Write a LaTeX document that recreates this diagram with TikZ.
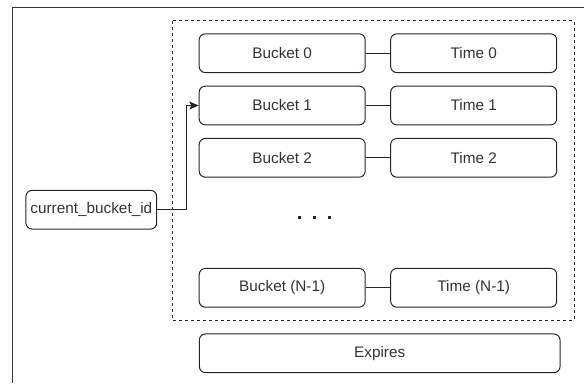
\documentclass[tikz,border=0pt]{standalone}
\usepackage{fontspec}
\setmainfont{Liberation Sans}
\usetikzlibrary{arrows.meta}
\begin{document}
\begin{tikzpicture}[x=0.75pt,y=-0.75pt,
  line width=0.75pt,
  box/.style={draw=black!85, rounded corners=4.5pt, inner sep=0pt,
    minimum height=29pt, font=\fontsize{11.5}{13}\selectfont, text=black!80},
  slot/.style={box, minimum width=124.5pt},
  link/.style={draw=black!85}]
  \useasboundingbox (0,0) rectangle (584,383);

  % outer frame (open on the right and bottom)
  \draw[black!80] (12.5,383) -- (12.5,7.5) -- (584,7.5);

  % group of buckets
  \draw[black!85, dash pattern=on 2.25pt off 2.25pt] (172.7,20.7) rectangle (574,320);

  % bucket / time pairs
  \node[slot] (b0) at (282.2,53.2) {Bucket 0};
  \node[slot] (t0) at (473.7,53.2) {Time 0};
  \node[slot] (b1) at (282.2,105.5) {Bucket 1};
  \node[slot] (t1) at (473.7,105.5) {Time 1};
  \node[slot] (b2) at (282.2,157.8) {Bucket 2};
  \node[slot] (t2) at (473.7,157.8) {Time 2};
  \node[slot] (bn) at (282.2,287.8) {Bucket (N-1)};
  \node[slot] (tn) at (473.7,287.8) {Time (N-1)};

  \draw[link] (b0.east) -- (t0.west);
  \draw[link] (b1.east) -- (t1.west);
  \draw[link] (b2.east) -- (t2.west);
  \draw[link] (bn.east) -- (tn.west);

  % ellipsis
  \node[inner sep=0pt] (dots) at (314.3,217.3)
    {\tikz[x=0.75pt,y=0.75pt]{\foreach \i in {0,15,30}{\fill[black!85] (\i-1.5,-1.5) rectangle (\i+1.5,1.5);}}};

  % expiry box
  \node[box, minimum width=270.5pt] (exp) at (379.7,353.3) {Expires};

  % current bucket pointer
  \node[box, minimum width=98pt] (cur) at (91.3,209.7) {current\_bucket\_id};
  \coordinate (bend) at (186,209.7);
  \draw[link, -{Stealth[length=7pt,width=6pt,inset=1.5pt]}]
    (cur.east) -- (bend) |- (b1.west);
\end{tikzpicture}
\end{document}
